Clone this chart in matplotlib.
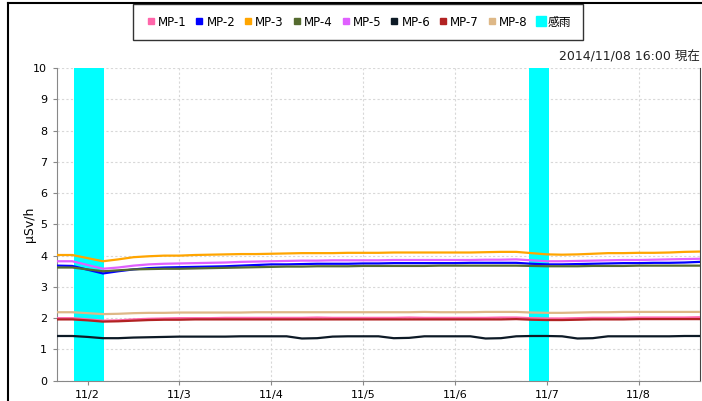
import numpy as np
import matplotlib
matplotlib.use('Agg')
import matplotlib.pyplot as plt
from matplotlib.lines import Line2D

# time base: every 4 hours from 2014-11-01 16:00 to 2014-11-08 16:00
times = np.arange(np.datetime64('2014-11-01T16:00'), np.datetime64('2014-11-08T20:00'),
                  np.timedelta64(4, 'h'))

mp1 = [2.00, 2.00, 1.96, 1.92, 1.93, 1.96, 1.98, 1.99, 2.00, 2.00, 2.00, 2.01, 2.01, 2.01, 2.01,
       2.01, 2.01, 2.02, 2.01, 2.01, 2.01, 2.01, 2.01, 2.02, 2.01, 2.01, 2.01, 2.01, 2.01, 2.02,
       2.02, 2.00, 1.99, 1.99, 2.00, 2.01, 2.01, 2.01, 2.02, 2.02, 2.02, 2.02, 2.03]
mp2 = [3.68, 3.67, 3.55, 3.43, 3.50, 3.56, 3.60, 3.62, 3.63, 3.64, 3.65, 3.66, 3.68, 3.70, 3.72,
       3.72, 3.73, 3.74, 3.74, 3.74, 3.75, 3.75, 3.76, 3.76, 3.76, 3.76, 3.76, 3.77, 3.77, 3.77,
       3.77, 3.74, 3.72, 3.72, 3.73, 3.74, 3.75, 3.76, 3.76, 3.77, 3.77, 3.78, 3.80]
mp3 = [4.02, 4.02, 3.92, 3.82, 3.88, 3.95, 3.98, 4.00, 4.00, 4.02, 4.03, 4.04, 4.05, 4.05, 4.06,
       4.07, 4.08, 4.08, 4.08, 4.09, 4.09, 4.09, 4.10, 4.10, 4.10, 4.10, 4.10, 4.10, 4.11, 4.12,
       4.12, 4.08, 4.04, 4.03, 4.04, 4.06, 4.08, 4.08, 4.09, 4.09, 4.10, 4.12, 4.13]
mp4 = [3.62, 3.62, 3.56, 3.50, 3.53, 3.56, 3.57, 3.58, 3.58, 3.59, 3.60, 3.61, 3.62, 3.63, 3.64,
       3.65, 3.65, 3.66, 3.66, 3.66, 3.67, 3.67, 3.67, 3.67, 3.67, 3.68, 3.68, 3.68, 3.68, 3.68,
       3.68, 3.67, 3.66, 3.66, 3.66, 3.67, 3.67, 3.67, 3.68, 3.68, 3.68, 3.68, 3.68]
mp5 = [3.82, 3.82, 3.70, 3.58, 3.62, 3.68, 3.72, 3.74, 3.75, 3.76, 3.77, 3.78, 3.80, 3.81, 3.82,
       3.83, 3.84, 3.84, 3.85, 3.85, 3.85, 3.85, 3.86, 3.86, 3.86, 3.86, 3.86, 3.86, 3.87, 3.87,
       3.88, 3.85, 3.82, 3.82, 3.83, 3.84, 3.85, 3.86, 3.86, 3.87, 3.88, 3.89, 3.90]
mp6 = [1.43, 1.43, 1.40, 1.36, 1.36, 1.38, 1.39, 1.40, 1.41, 1.41, 1.41, 1.41, 1.42, 1.42, 1.42,
       1.42, 1.35, 1.36, 1.41, 1.42, 1.42, 1.42, 1.36, 1.37, 1.42, 1.42, 1.42, 1.42, 1.35, 1.36,
       1.42, 1.43, 1.43, 1.42, 1.35, 1.36, 1.42, 1.42, 1.42, 1.42, 1.42, 1.43, 1.43]
mp7 = [1.96, 1.96, 1.93, 1.89, 1.90, 1.92, 1.94, 1.95, 1.95, 1.96, 1.96, 1.96, 1.96, 1.96, 1.96,
       1.96, 1.96, 1.96, 1.96, 1.96, 1.96, 1.96, 1.96, 1.96, 1.96, 1.96, 1.96, 1.96, 1.96, 1.96,
       1.97, 1.95, 1.94, 1.94, 1.95, 1.96, 1.96, 1.96, 1.97, 1.97, 1.97, 1.97, 1.97]
mp8 = [2.19, 2.19, 2.16, 2.13, 2.14, 2.16, 2.17, 2.17, 2.18, 2.18, 2.18, 2.18, 2.18, 2.19, 2.19,
       2.19, 2.19, 2.19, 2.19, 2.19, 2.19, 2.19, 2.19, 2.19, 2.20, 2.19, 2.19, 2.19, 2.20, 2.20,
       2.20, 2.18, 2.17, 2.17, 2.18, 2.19, 2.19, 2.20, 2.20, 2.20, 2.20, 2.20, 2.20]

series_names = ['MP-1', 'MP-2', 'MP-3', 'MP-4', 'MP-5', 'MP-6', 'MP-7', 'MP-8']
series_values = [mp1, mp2, mp3, mp4, mp5, mp6, mp7, mp8]
series_colors = ['#ff66aa', '#0000ff', '#ffa500', '#556b2f', '#e060ff', '#0d1a26', '#b22222', '#deb887']

rain_start = ['2014-11-01T20:30', '2014-11-06T19:20']
rain_end = ['2014-11-02T04:20', '2014-11-07T00:30']

tick_days = ['2014-11-02', '2014-11-03', '2014-11-04', '2014-11-05', '2014-11-06', '2014-11-07', '2014-11-08']
tick_labels = ['11/2', '11/3', '11/4', '11/5', '11/6', '11/7', '11/8']

font_list = ['DejaVu Sans', 'Noto Sans CJK JP']

fig = plt.figure(figsize=(7.02, 4.01), dpi=100)
ax = fig.add_axes([0.0812, 0.0506, 0.9158, 0.7798])

for s, e in zip(rain_start, rain_end):
    ax.axvspan(np.datetime64(s), np.datetime64(e), color='#00ffff', lw=0, zorder=1)

for name, vals, col in zip(series_names, series_values, series_colors):
    ax.plot(times, vals, color=col, lw=1.6, zorder=3, label=name)

ax.set_xlim(np.datetime64('2014-11-01T16:00'), np.datetime64('2014-11-08T16:00'))
ax.set_ylim(0, 10)
ax.set_yticks(range(0, 11))
ax.set_xticks([np.datetime64(d) for d in tick_days])
ax.set_xticklabels(tick_labels)
ax.tick_params(labelsize=8, length=3, color='#888888', pad=4)
ax.grid(True, color='#d8d8d8', linestyle=(0, (2, 2)), lw=0.8, zorder=0)
ax.set_axisbelow(True)
ax.spines['top'].set_visible(False)
ax.spines['left'].set_color('#888888')
ax.spines['bottom'].set_color('#888888')
ax.spines['right'].set_color('#444444')
ax.set_ylabel('μSv/h', fontsize=9, labelpad=-2)

# legend
handles = [Line2D([], [], marker='s', ls='none', color=c, markersize=5) for c in series_colors]
handles.append(Line2D([], [], marker='s', ls='none', color='#00ffff', markersize=7))
labels = series_names + ['感雨']
leg = fig.legend(handles, labels, loc='center', bbox_to_anchor=(0.51, 0.945), ncol=9,
                 frameon=True, fancybox=False, edgecolor='black', handletextpad=0.1,
                 columnspacing=0.6, handlelength=1.0, borderpad=0.95,
                 prop={'family': font_list, 'size': 8.5})
leg.get_frame().set_linewidth(1.0)

fig.text(0.997, 0.858, '2014/11/08 16:00 現在', ha='right', va='center', fontsize=9,
         family=font_list, color='#222222')

# outer frame lines
fig.add_artist(Line2D([0.0115, 1.0], [0.992, 0.992], color='black', lw=1.5, transform=fig.transFigure))
fig.add_artist(Line2D([0.0115, 0.0115], [0.0, 0.992], color='black', lw=1.5, transform=fig.transFigure))

fig.savefig('out.png', dpi=100)
